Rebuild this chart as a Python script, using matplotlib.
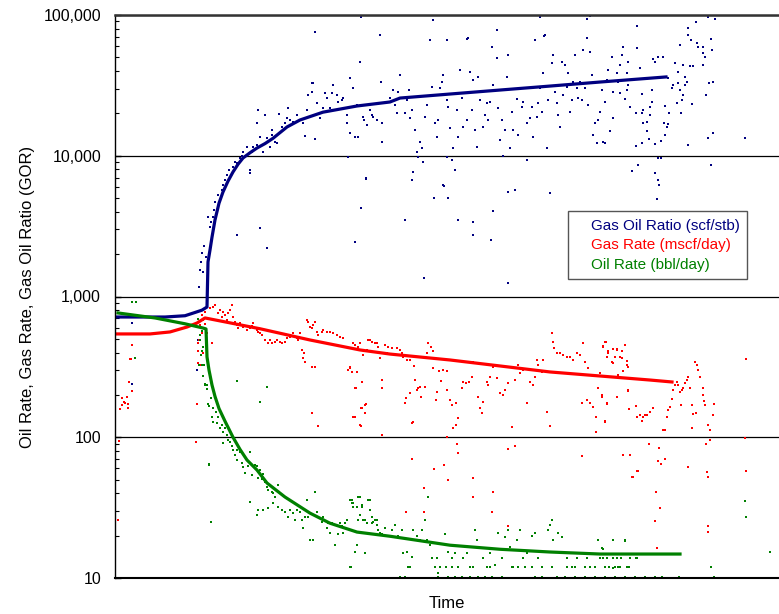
import numpy as np
import matplotlib
matplotlib.use('Agg')
import matplotlib.pyplot as plt
from matplotlib.ticker import FuncFormatter, LogLocator, NullFormatter

plt.rcParams['font.family'] = ['Liberation Sans', 'DejaVu Sans']

# time axis (days from start)
gor_t = [17, 17, 83, 82, 84, 85, 88, 86, 87, 89, 91, 93, 96, 95, 98, 99, 100, 103, 105, 107, 108, 110, 112, 114,
         118, 120, 122, 125, 127, 128, 132, 135, 135, 138, 142, 145, 148, 152, 155, 157, 160, 162, 164, 167, 170,
         172, 173, 175, 178, 182, 185, 188, 192, 190, 193, 197, 197, 198, 200, 202, 205, 208, 210, 212, 215, 217,
         218, 222, 223, 227, 228, 232, 232, 233, 235, 235, 238, 240, 242, 243, 245, 248, 249, 251, 246, 240, 252,
         255, 257, 258, 262, 266, 267, 267, 265, 200, 145, 152, 122, 137, 143, 150, 142, 157,
         275, 278, 280, 282, 283, 285, 288, 290, 292, 294, 295, 297, 300, 302, 303, 305, 307, 308, 298, 297, 290,
         310, 312, 315, 317, 320, 322, 323, 325, 327, 328, 332, 332, 333, 335, 332, 337, 338, 340, 328, 333, 319,
         342, 343, 345, 347, 348, 352, 353, 355, 357, 358, 360, 362, 363, 365, 367, 368, 370, 372, 373, 375, 377,
         378, 382, 382, 383, 385, 387, 388, 390, 392, 393, 393, 395, 397, 398, 400, 402, 403, 407, 408, 412, 412,
         415, 417, 418, 420, 422, 423, 425, 427, 428, 430, 432, 433, 435, 437, 438, 440, 442, 443, 445, 447, 448,
         450, 452, 453, 455, 457, 458, 460, 462, 463, 465, 467, 468, 470, 472, 473, 475, 477, 478, 480, 482, 483,
         485, 487, 488, 490, 493,
         522, 522, 508, 507, 497, 505, 513, 525, 538, 543, 548, 540, 502, 512, 492, 503, 513, 498, 512, 527, 537,
         505, 510, 515, 528, 535, 537, 550, 498, 521, 527, 535, 528, 532, 495, 532, 534, 540, 490, 521, 527, 546,
         550, 553, 552, 549, 554, 553, 557, 558, 563, 565, 568, 570, 572, 567, 562, 566, 570, 563, 568, 575, 578,
         588, 560, 565, 573, 573, 576, 582, 583, 588, 588, 590, 596, 597, 594, 598, 591, 577, 581, 593, 600, 598,
         593, 573, 630, 543, 546, 523, 517, 540, 543, 544, 542, 596,
         246, 318, 352, 425, 429, 472, 475, 251, 329, 358, 358, 376, 378, 343, 309, 393]
gor_v = [650, 240, 491, 301, 1170, 1540, 1490, 1760, 2040, 2280, 1910, 3670, 3390, 3120, 3700, 4120, 4690, 5260,
         4850, 5710, 6200, 6730, 7290, 7920, 8320, 9030, 8890, 9640, 10030, 10640, 11540, 7920, 7540, 11540, 11920,
         13590, 10640, 13370, 11540, 15240, 12530, 12330, 19800, 16010, 17090, 18550, 21800, 17950, 17370, 19430,
         17950, 17090, 21100, 13820, 27040, 28360, 32850, 33000, 13150, 23700, 18550, 21800, 27900, 25730, 21800,
         27900, 31770, 27040, 24100, 24900, 25730, 19430, 17090, 9800, 35650, 14510, 30280, 13590, 22930, 13590,
         46370, 18850, 17950, 6950, 4260, 2440, 16530, 21100, 19430, 18850, 17950, 33400, 17090, 12530, 72000,
         75700, 3070, 2210, 2740, 10640, 21100, 19430, 17090, 14040,
         25730, 29300, 22930, 20090, 28360, 37500, 25730, 20090, 24900, 29300, 18550, 21100, 15240, 10640, 9800,
         12530, 11350, 9030, 7670, 6730, 3500, 18850, 22930, 66400, 30770, 17090, 13590, 17950, 30280, 33400,
         37500, 66400, 24900, 22200, 15750, 9800, 9330, 11350, 7920, 6200, 5010, 5010, 21100, 13590, 40700, 25730,
         16010, 17950, 68600, 39400, 21100, 34500, 15240, 11540, 36300, 24900, 28360, 16010, 19430, 23700, 17950,
         24100, 59240, 31770, 78200, 49500, 21800, 12940, 17950, 10000, 15240, 36300, 51900, 5530, 11350, 20400,
         15240, 5710, 25300, 14040, 22200, 24100, 17090, 9330, 18550, 22200, 13590, 66400, 18850, 23700, 30280,
         20400, 38750, 72000, 11350, 24900, 5440, 45600, 51900, 28360, 23700, 19430, 16010, 46370, 27040, 44100,
         30770, 38750, 20400, 24900, 33400, 51900, 30280, 25730, 33400, 24900, 56400, 30280, 68600, 22930, 54600,
         37500, 14040, 17090, 12330, 17950, 20400, 29300, 12530, 24100, 40700,
         83400, 58300, 59240, 51900, 50300, 44100, 46370, 42000, 48700, 50300, 50300, 46370, 38750, 38750, 34500,
         33400, 31770, 28360, 29300, 27450, 29300, 27900, 25300, 22200, 21100, 22200, 24100, 22570, 18550, 20090,
         20090, 19430, 17090, 17370, 15000, 15000, 13150, 12120, 12330, 11730, 12330, 12740, 14040, 16800, 16010,
         17090, 20090, 35650, 30280, 31770, 32850, 29300, 27040, 31770, 33400, 24900, 23700, 20090, 36300, 39400,
         44100, 43400, 43400, 44100, 45600, 61200, 80800, 72000, 66400, 63200, 59240, 59240, 53700, 50300, 67500,
         56400, 32850, 33400, 27040, 23300, 89200, 96800, 93600, 14510, 13370, 11920, 13370, 9640, 9640, 8600,
         7800, 7540, 6730, 6200, 4930, 8600,
         96800, 92100, 67500, 96800, 70800, 94000, 98400, 6850, 6100, 3390, 2740, 2520, 4050, 3500, 1350, 1250]

gas_t = [17, 15, 16, 14, 17, 7, 9, 7, 12, 10, 5, 13, 13, 4, 3, 82, 81, 87, 88, 85, 90, 84, 83, 83, 88, 83, 85, 87,
         92, 90, 95, 98, 100, 103, 105, 107, 108, 110, 112, 113, 115, 117, 118, 120, 122, 123, 125, 128, 132, 135,
         137, 138, 140, 142, 143, 145, 147, 150, 153, 155, 157, 160, 162, 165, 167, 170, 172, 175, 178, 180, 182,
         183, 185, 187, 188, 190, 192, 193, 195, 197, 198, 200, 202, 203, 197, 200, 207, 208, 212, 215, 218, 222,
         225, 228, 233, 235, 237, 238, 240, 242, 243, 245, 247, 247, 250, 240, 245, 248, 252, 255, 257, 260, 263,
         265, 267, 267, 270, 272, 267, 197, 203, 189, 97,
         240, 243, 253, 262, 273, 277, 282, 285, 287, 288, 292, 295, 299, 312, 313, 316, 318, 235, 241, 238, 246,
         250, 246, 251, 290, 291, 295, 297, 298, 300, 302, 303, 305, 310, 306, 318, 321, 322, 324, 326, 328, 332,
         332, 335, 337, 338, 341, 341, 343, 347, 348, 351, 354, 357, 358, 363, 365, 367, 368, 372, 373, 375, 378,
         382, 385, 388, 390, 393, 397, 400, 403, 405, 408, 412, 415, 418, 420, 422, 423, 427, 428, 432, 435, 437,
         438, 439, 442, 445, 448, 452, 455, 458, 462, 465, 468, 470, 473, 467, 472, 475, 478, 481, 483, 485, 487,
         488, 490, 493, 497, 500, 502, 503, 507, 510, 512, 513, 502, 492, 481, 490, 514, 521, 522, 525, 528, 532,
         527, 297, 319, 329, 332, 333, 342, 343, 309, 309, 358, 358, 378, 377, 393, 400, 393, 467, 508, 515, 518,
         522, 534, 291,
         488, 491, 493, 498, 502, 505, 507, 510, 512, 513, 508, 498, 492, 487, 492, 502, 513, 530, 535, 538, 490,
         548, 550, 552, 553, 555, 557, 558, 560, 562, 563, 565, 567, 568, 570, 572, 573, 575, 566, 577, 580, 582,
         583, 585, 588, 588, 589, 590, 578, 581, 598, 599, 593, 595, 595, 591, 577, 631, 630, 631, 544, 546, 550,
         543, 523, 517, 573, 592, 593, 541, 545, 540, 593, 593, 542]
gas_v = [452, 360, 360, 247, 214, 190, 178, 169, 194, 175, 159, 161, 172, 94, 26, 172, 92, 739, 681, 627, 638, 491,
         467, 410, 397, 337, 326, 550, 550, 776, 828, 842, 869, 764, 802, 715, 776, 739, 681, 764, 802, 869, 715,
         659, 627, 597, 648, 607, 578, 597, 617, 648, 597, 578, 560, 550, 532, 491, 467, 491, 467, 475, 491, 475,
         467, 475, 507, 516, 550, 516, 507, 491, 550, 417, 366, 343, 681, 659, 607, 597, 627, 659, 560, 532, 316,
         316, 560, 578, 560, 560, 550, 532, 516, 507, 301, 316, 291, 467, 224, 291, 438, 467, 247, 161, 169, 139,
         122, 384, 417, 491, 475, 467, 438, 366, 255, 224, 452, 397, 104, 149, 120, 397, 467,
         452, 417, 491, 467, 438, 430, 430, 417, 397, 372, 354, 354, 321, 397, 467, 438, 410, 310, 224, 139, 161,
         149, 120, 172, 175, 190, 207, 127, 129, 255, 217, 224, 228, 228, 194, 310, 184, 210, 296, 251, 301, 296,
         217, 184, 169, 117, 122, 175, 137, 224, 247, 243, 247, 268, 343, 194, 161, 149, 178, 247, 235, 268, 316,
         262, 207, 199, 217, 243, 119, 255, 326, 287, 301, 175, 247, 235, 268, 354, 326, 291, 354, 151, 120, 550,
         475, 430, 397, 397, 384, 372, 372, 354, 397, 384, 467, 343, 310, 175, 184, 175, 164, 139, 224, 287, 194,
         438, 475, 397, 343, 372, 417, 277, 366, 452, 326, 217, 194, 175, 109, 129, 159, 166, 139, 144, 139, 144,
         130, 70, 59.5, 63.5, 100, 49.7, 89.5, 77, 43.6, 29.4, 51.4, 37.6, 40.8, 29.4, 82.4, 86.5, 23.4, 73.5, 75,
         75, 52.2, 57.6, 89.5, 29.4,
         445, 475, 410, 424, 424, 372, 410, 452, 348, 316, 296, 337, 372, 198, 172, 194, 214, 144, 151, 161, 131,
         113, 113, 139, 156, 164, 187, 217, 235, 247, 235, 210, 217, 224, 243, 255, 268, 224, 169, 169, 343, 326,
         301, 268, 224, 199, 181, 169, 146, 149, 144, 172, 122, 113, 95.5, 90, 117, 360, 98.5, 57.6, 83.8, 64.6, 70,
         67.8, 57.6, 52.2, 61.5, 56.7, 52.2, 40.8, 31.4, 25.4, 23.4, 21.2, 16.3]

oil_t = [17, 21, 20, 83, 87, 85, 88, 86, 84, 88, 90, 92, 94, 94, 85, 87, 87, 89, 90, 92, 93, 96, 97, 98, 98, 101,
         102, 103, 105, 107, 108, 108, 110, 112, 113, 115, 117, 118, 122, 120, 122, 125, 127, 128, 130, 132, 133,
         135, 137, 140, 142, 143, 145, 147, 148, 150, 152, 153, 155, 157, 158, 160, 163, 158, 153, 148, 143, 135,
         142, 163, 167, 170, 173, 175, 178, 180, 182, 185, 187, 188, 190, 192, 193, 195, 198, 200, 202, 203, 207,
         208, 212, 213, 215, 217, 220, 223, 225, 227, 228, 230, 232, 235, 237, 238, 240, 242, 243, 245, 247, 248,
         250, 252, 255, 257, 260, 262, 265, 235, 94, 96, 122, 152, 145,
         237, 238, 242, 243, 247, 245, 250, 253, 255, 257, 258, 262, 263, 267, 270, 273, 277, 280, 283, 287, 288,
         292, 293, 297, 298, 302, 305, 307, 310, 312, 313, 315, 317, 320, 322, 323, 330, 333, 337, 340, 343, 348,
         352, 355, 360, 362, 368, 372, 375, 380, 383, 387, 390, 393, 395, 398, 402, 405, 408, 412, 417, 420, 423,
         427, 433, 435, 437, 438, 443, 447, 452, 457, 462, 467, 472, 475, 483, 487, 492, 498, 505, 510, 515, 522,
         285, 290, 323, 333, 340, 347, 355, 363, 370, 377, 387, 420, 427, 442, 450, 460, 470, 480, 490, 500, 510,
         520, 530, 540, 547, 564, 599,
         236, 293, 295, 320, 325, 331, 337, 343, 358, 375, 397, 403, 410, 417, 437, 452, 460, 470, 480, 490, 500,
         514, 596,
         498, 510, 488, 485, 488, 492, 498, 502, 506, 521, 494, 498, 503, 512, 630, 631, 655]
oil_v = [914, 914, 366, 692, 569, 532, 438, 384, 326, 273, 239, 220, 167, 63.5, 491, 410, 326, 326, 235, 235, 172,
         190, 139, 161, 129, 151, 127, 139, 117, 122, 109, 91, 117, 104, 95.5, 92, 86, 81, 81, 75, 69, 78, 65.6,
         61.5, 55.6, 69, 62.5, 78, 53.9, 63.5, 62.5, 51.4, 58.5, 50.5, 54.8, 48.1, 44.3, 42.2, 45.7, 40.8, 40.2,
         37.6, 45.7, 34.1, 31.4, 30.4, 30.4, 34.6, 28, 31.9, 30.4, 29.4, 27, 30.4, 28.9, 25.8, 30.4, 29.4, 25.8,
         22.6, 27, 35.8, 27, 18.6, 18.6, 40.8, 29.4, 27, 25, 27, 22.6, 24.5, 20.9, 24.5, 17.1, 20.5, 24.5, 23.4,
         20.9, 24.5, 25.8, 35.8, 34.1, 31.9, 15.3, 17.1, 25.8, 37.6, 31.9, 25.8, 15, 24.5, 35.8, 24.5, 25.8, 23.8,
         20.9, 12, 64.6, 25, 251, 228, 178,
         35.8, 34.1, 31.9, 37.6, 33, 28, 25.8, 35.8, 30.4, 27, 24.9, 25.8, 21.9, 20.5, 22.6, 19.8, 21.9, 23.8,
         19.8, 21.9, 15, 15.3, 12, 14.1, 21.9, 19.8, 18.6, 21.9, 25.8, 18.6, 37.6, 17.1, 13.9, 12, 13.9, 10.9,
         20.7, 15.3, 13.9, 15, 12, 13.9, 15, 12, 21.9, 18.6, 13.9, 12, 15, 12.3, 20.9, 13.9, 19.5, 21.9, 16.6, 12,
         18.6, 21.9, 13.9, 15, 19.8, 20.9, 13.9, 12, 21.9, 23.8, 25.8, 18.6, 20.9, 19.5, 13.9, 12, 13.9, 15, 13.9,
         12, 18.6, 16.3, 13.9, 18.6, 12, 18.6, 13.9, 13.9,
         10.2, 10.2, 10.2, 10.2, 10.2, 10.2, 10.2, 10.2, 10.2, 10.2, 10.2, 10.2, 10.2, 10.2, 10.2, 10.2, 10.2,
         10.2, 10.2, 10.2, 10.2, 10.2, 10.2, 10.2, 10.2, 10.2, 10.2,
         12, 12, 12, 12, 12, 12, 12, 12, 12, 12, 12, 12, 12, 12, 12, 12, 12, 12, 12, 12, 12, 12, 12,
         18.6, 18.3, 16, 13.9, 13.9, 13.9, 13.9, 13.9, 13.9, 13.9, 12, 11.8, 12, 12, 35.2, 27.1, 15.3]

# fitted trend lines
gor_fit_t = [0, 50, 70, 80, 87, 92, 93, 95, 97, 100, 104, 108, 113, 118, 123, 128, 135, 142, 150, 158, 165, 172,
             185, 208, 242, 275, 285, 335, 385, 435, 485, 551]
gor_fit_v = [715, 715, 730, 770, 800, 842, 1760, 2140, 2640, 3500, 4600, 5530, 6600, 7670, 8700, 9640, 10500,
             11350, 12200, 13300, 14600, 16010, 17950, 20400, 22570, 24100, 25700, 27450, 29300, 31270, 33400, 36300]
gas_fit_t = [0, 35, 55, 72, 82, 90, 145, 195, 245, 275, 335, 435, 535, 557]
gas_fit_v = [542, 542, 560, 607, 648, 704, 590, 491, 417, 390, 354, 291, 255, 247]
oil_fit_t = [3, 40, 70, 88, 91, 92, 94, 97, 100, 104, 110, 118, 125, 132, 142, 152, 170, 195, 215, 242, 275, 335,
             385, 435, 485, 565]
oil_fit_v = [764, 704, 640, 597, 588, 372, 300, 235, 195, 160, 130, 100, 82, 68.9, 58.5, 47.3, 37.6, 28.9, 24.5,
             21.2, 19.8, 17.1, 16, 15.3, 14.8, 14.8]

labels = ['Gas Oil Ratio (scf/stb)', 'Gas Rate (mscf/day)', 'Oil Rate (bbl/day)']
colors = ['#000080', '#FF0000', '#008000']

fig = plt.figure(figsize=(7.79, 6.14), dpi=100)
ax = fig.add_axes([115/779, 36/614, 664/779, 563/614])

ax.plot(gor_t, gor_v, 's', color=colors[0], ms=1.7, mew=0)
ax.plot(gas_t, gas_v, 's', color=colors[1], ms=1.7, mew=0)
ax.plot(oil_t, oil_v, 's', color=colors[2], ms=1.7, mew=0)

l1, = ax.plot(gor_fit_t, gor_fit_v, color=colors[0], lw=2.3, label=labels[0])
l2, = ax.plot(gas_fit_t, gas_fit_v, color=colors[1], lw=2.3, label=labels[1])
l3, = ax.plot(oil_fit_t, oil_fit_v, color=colors[2], lw=2.3, label=labels[2])

ax.set_yscale('log')
ax.set_ylim(10, 100000)
ax.set_xlim(0, 664)
ax.set_xticks([])

ax.yaxis.set_major_locator(LogLocator(base=10))
ax.yaxis.set_minor_locator(LogLocator(base=10, subs=np.arange(2, 10)))
ax.yaxis.set_major_formatter(FuncFormatter(lambda v, p: '{:,.0f}'.format(v)))
ax.yaxis.set_minor_formatter(NullFormatter())
ax.tick_params(axis='y', which='major', direction='in', length=4, width=1, labelsize=11.5, pad=10)
ax.tick_params(axis='y', which='minor', direction='in', length=3, width=0.8)
ax.yaxis.grid(True, which='major', color='black', lw=0.9)

ax.spines['right'].set_visible(False)
ax.spines['top'].set_linewidth(1.8)
ax.spines['top'].set_color('#333333')
ax.spines['left'].set_linewidth(1.0)
ax.spines['bottom'].set_linewidth(1.5)

ax.set_ylabel('Oil Rate, Gas Rate, Gas Oil Ratio (GOR)', fontsize=12, labelpad=6)
ax.set_xlabel('Time', fontsize=12, labelpad=13)

# legend: coloured text only, blank space where the handles would be
leg = ax.legend(handles=[l1, l2, l3], loc='upper left', bbox_to_anchor=(0.682, 0.651), fontsize=11,
                handlelength=1.0, handletextpad=0, fancybox=False, framealpha=1, edgecolor='#555555',
                borderpad=0.5, borderaxespad=0, labelspacing=0.35)
leg.get_frame().set_linewidth(1.0)
for txt, c, h in zip(leg.get_texts(), colors, leg.legend_handles):
    txt.set_color(c)
    h.set_visible(False)

plt.savefig('out.png', dpi=100)
